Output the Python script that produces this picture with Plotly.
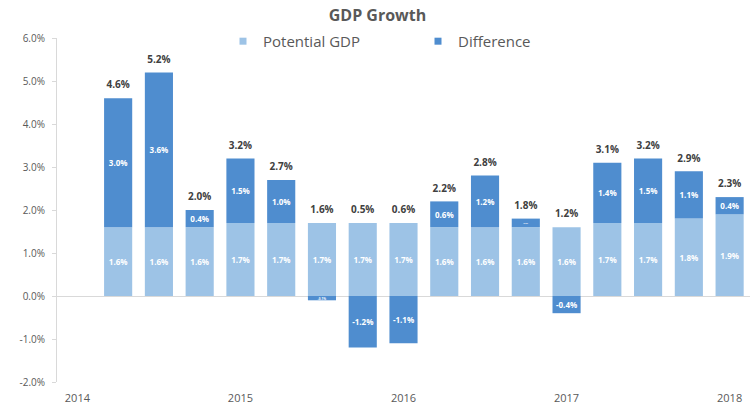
import plotly.graph_objects as go

quarters = ["2014 Q1", "2014 Q2", "2014 Q3", "2014 Q4",
            "2015 Q1", "2015 Q2", "2015 Q3", "2015 Q4",
            "2016 Q1", "2016 Q2", "2016 Q3", "2016 Q4",
            "2017 Q1", "2017 Q2", "2017 Q3", "2017 Q4",
            "2018 Q1"]
bar_quarters = quarters[1:]
potential_gdp = [1.6, 1.6, 1.6, 1.7, 1.7, 1.7, 1.7, 1.7,
                 1.6, 1.6, 1.6, 1.6, 1.7, 1.7, 1.8, 1.9]
difference = [3.0, 3.6, 0.4, 1.5, 1.0, -0.1, -1.2, -1.1,
              0.6, 1.2, 0.2, -0.4, 1.4, 1.5, 1.1, 0.4]
tick_quarters = ["2014 Q1", "2015 Q1", "2016 Q1", "2017 Q1", "2018 Q1"]
tick_labels = ["2014", "2015", "2016", "2017", "2018"]
y_ticks = [-2, -1, 0, 1, 2, 3, 4, 5, 6]
series_names = ["Potential GDP", "Difference"]

totals = [p + d for p, d in zip(potential_gdp, difference)]
label_y = [p + max(d, 0) for p, d in zip(potential_gdp, difference)]

LIGHT = "#9DC3E6"
DARK = "#4F8DCF"
FONT = "Open Sans"

fig = go.Figure()
for vals, col, nm in [(potential_gdp, LIGHT, series_names[0]),
                      (difference, DARK, series_names[1])]:
    fig.add_trace(go.Bar(
        x=bar_quarters, y=vals, name=nm, showlegend=False,
        marker=dict(color=col, line=dict(width=0)),
        texttemplate="%{y:.1f}%", textposition="inside",
        insidetextanchor="middle", textangle=0,
        textfont=dict(color="white", size=8, family=FONT, weight="bold"),
    ))
    # legend entry with a small square swatch
    fig.add_trace(go.Scatter(
        x=[None], y=[None], mode="markers", name=nm,
        marker=dict(symbol="square", size=7, color=col),
        hoverinfo="skip",
    ))

# total labels above each column (transparent marker lifts the text)
fig.add_trace(go.Scatter(
    x=bar_quarters, y=label_y, mode="markers+text",
    marker=dict(size=10, color="rgba(0,0,0,0)"),
    text=[f"{t:.1f}%" for t in totals], textposition="top center",
    textfont=dict(color="#404040", size=10, family=FONT, weight="bold"),
    showlegend=False, hoverinfo="skip",
))

fig.update_layout(
    width=755, height=406,
    barmode="relative", bargap=0.31,
    plot_bgcolor="white", paper_bgcolor="white",
    margin=dict(l=57, r=5, t=38, b=24, autoexpand=False),
    font=dict(family=FONT, color="#595959"),
    title=dict(text="<b>GDP Growth</b>", x=0.5, xanchor="center",
               y=1 - 15 / 406, yref="container", yanchor="middle",
               font=dict(size=16, color="#595959", family=FONT)),
    legend=dict(orientation="h", x=(223 - 57) / 693, xanchor="left", y=0.99,
                yanchor="middle", font=dict(size=15, color="#595959"),
                entrywidth=150, bgcolor="rgba(0,0,0,0)"),
    xaxis=dict(type="category", categoryorder="array", categoryarray=quarters,
               range=[-0.5, 16.5], tickmode="array",
               tickvals=tick_quarters, ticktext=tick_labels,
               showline=False, showgrid=False, ticks="", automargin=False,
               ticklabelstandoff=8,
               tickfont=dict(size=11, color="#595959")),
    yaxis=dict(range=[-2, 6], tickvals=y_ticks,
               ticktext=[f"{v:.1f}%" for v in y_ticks],
               showgrid=False, showline=True, linecolor="#D9D9D9",
               ticks="outside", ticklen=4, tickcolor="#D9D9D9",
               zeroline=True, zerolinecolor="#D9D9D9", zerolinewidth=1,
               automargin=False, ticklabelstandoff=5,
               tickfont=dict(size=10, color="#595959")),
)

fig.write_html("out.html", config={"displayModeBar": False},
               post_script="document.body.style.margin='0';")
